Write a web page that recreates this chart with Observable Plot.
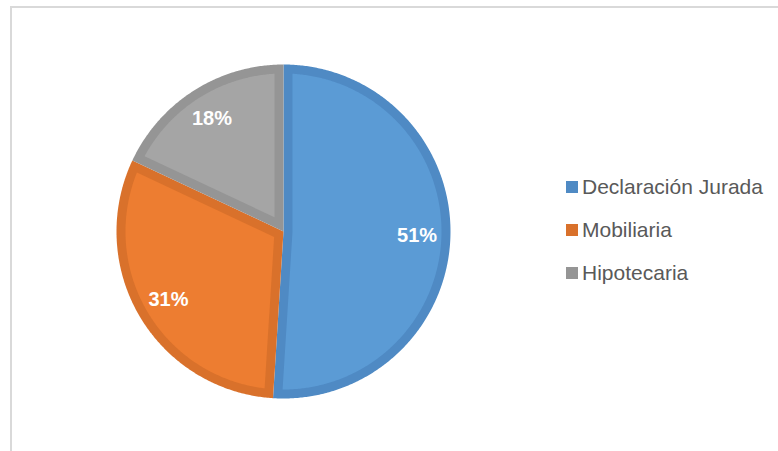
<!DOCTYPE html>
<html>
<head>
<meta charset="utf-8">
<script src="https://cdn.jsdelivr.net/npm/d3@7"></script>
<script src="https://cdn.jsdelivr.net/npm/@observablehq/plot@0.6"></script>
<style>
  html, body { margin: 0; padding: 0; background: #fff; }
  #wrap { position: relative; width: 778px; height: 451px; overflow: hidden; background: #fff; }
  #frame { position: absolute; left: 10px; top: 6px; width: 900px; height: 600px;
           border-top: 2px solid #D9D9D9; border-left: 2px solid #D9D9D9; box-sizing: border-box; }
  #chart { position: absolute; left: 0; top: 0; }
  #legend { position: absolute; left: 566px; top: 165px; font-family: "Liberation Sans", Arial, sans-serif;
            font-size: 21px; color: #595959; }
  .row { display: flex; align-items: center; height: 43px; }
  .sw { width: 12px; height: 12px; margin-right: 4px; flex: none; }
</style>
</head>
<body>
<div id="wrap">
  <div id="frame"></div>
  <div id="chart"></div>
  <div id="legend"></div>
</div>
<script>
// ---- data ----
const categories = ["Declaración Jurada", "Mobiliaria", "Hipotecaria"];
const values = [51, 31, 18];
const labels = ["51%", "31%", "18%"];
const fillColors = ["#5B9BD5", "#ED7D31", "#A5A5A5"];
const borderColors = ["#4F8AC4", "#D9712B", "#959595"];

// ---- geometry derived from data ----
const total = d3.sum(values);
const border = 9 / 167;   // border thickness relative to radius
const steps = 720;
const outer = [], inner = [], labelPts = [];
let acc = 0;
categories.forEach((cat, i) => {
  const a0 = acc / total * 2 * Math.PI;
  acc += values[i];
  const a1 = acc / total * 2 * Math.PI;
  const theta = a1 - a0, mid = (a0 + a1) / 2;
  const n = Math.max(2, Math.ceil(theta / (2 * Math.PI) * steps));
  // outer slice (border colour)
  outer.push({cat, x: 0, y: 0, color: borderColors[i]});
  for (let k = 0; k <= n; ++k) {
    const a = a0 + theta * k / n;
    outer.push({cat, x: Math.sin(a), y: Math.cos(a), color: borderColors[i]});
  }
  // inset slice (fill colour)
  const c = border / Math.sin(theta / 2);
  inner.push({cat, x: c * Math.sin(mid), y: c * Math.cos(mid), color: fillColors[i]});
  const r = 1 - border, da = Math.asin(border / r);
  const b0 = a0 + da, b1 = a1 - da;
  for (let k = 0; k <= n; ++k) {
    const a = b0 + (b1 - b0) * k / n;
    inner.push({cat, x: r * Math.sin(a), y: r * Math.cos(a), color: fillColors[i]});
  }
  labelPts.push({label: labels[i], x: 0.8 * Math.sin(mid), y: 0.8 * Math.cos(mid)});
});

const plot = Plot.plot({
  width: 778,
  height: 451,
  marginLeft: 116,
  marginRight: 328,
  marginTop: 64,
  marginBottom: 53,
  x: {domain: [-1, 1], axis: null},
  y: {domain: [-1, 1], axis: null},
  color: {type: "identity"},
  style: {background: "transparent", fontFamily: "Liberation Sans, Arial, sans-serif"},
  marks: [
    Plot.line(outer, {x: "x", y: "y", z: "cat", fill: "color", stroke: "none", curve: "linear-closed"}),
    Plot.line(inner, {x: "x", y: "y", z: "cat", fill: "color", stroke: "none", curve: "linear-closed"}),
    Plot.text(labelPts, {x: "x", y: "y", text: "label", fill: "white", fontWeight: "bold", fontSize: 20})
  ]
});
document.getElementById("chart").appendChild(plot);

const legend = document.getElementById("legend");
categories.forEach((cat, i) => {
  const row = document.createElement("div");
  row.className = "row";
  const sw = document.createElement("span");
  sw.className = "sw";
  sw.style.background = borderColors[i];
  const t = document.createElement("span");
  t.textContent = cat;
  row.appendChild(sw);
  row.appendChild(t);
  legend.appendChild(row);
});
</script>
</body>
</html>
